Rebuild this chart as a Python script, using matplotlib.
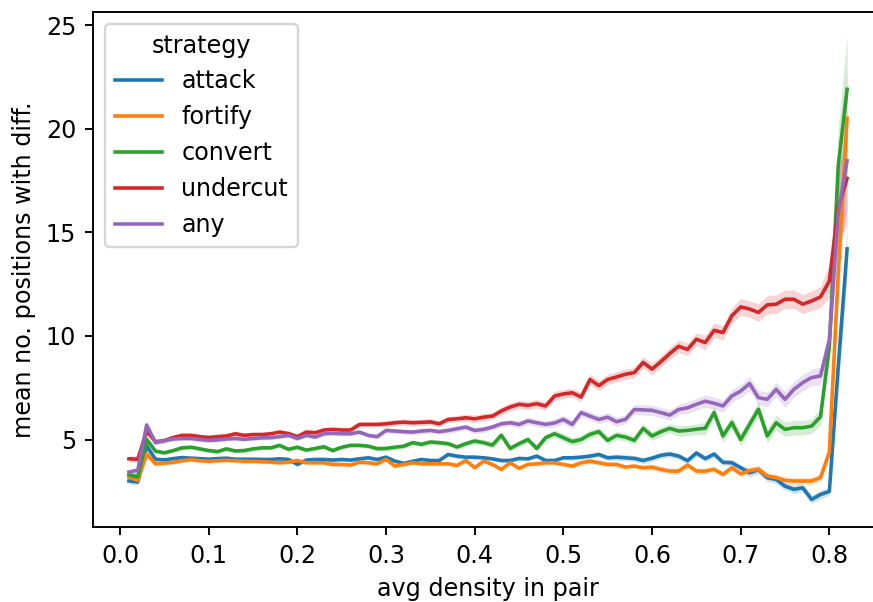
import numpy as np
import matplotlib
matplotlib.use("Agg")
import matplotlib.pyplot as plt

# avg density in pair, 0.01 .. 0.82
density = np.round(np.arange(1, 83) / 100, 2)

strategies = ["attack", "fortify", "convert", "undercut", "any"]

attack = [3.0, 2.95, 4.69, 4.05, 4.02, 4.08, 4.13, 4.1, 4.08, 4.05,
          4.08, 4.1, 4.05, 4.05, 4.05, 4.04, 4.04, 4.07, 4.04, 3.8,
          4.01, 4.04, 4.04, 4.01, 4.04, 4.01, 4.07, 4.12, 4.04, 4.15,
          3.96, 3.85, 3.95, 4.04, 3.99, 3.99, 4.28, 4.2, 4.15, 4.15,
          4.12, 4.07, 3.99, 3.99, 4.09, 4.07, 4.2, 3.99, 3.99, 4.12,
          4.12, 4.15, 4.2, 4.28, 4.12, 4.15, 4.12, 4.09, 3.99, 4.1,
          4.24, 4.3, 4.2, 3.98, 4.35, 4.08, 4.3, 3.9, 3.88, 3.64,
          3.4, 3.55, 3.16, 3.08, 2.75, 2.6, 2.67, 2.11, 2.35, 2.5,
          8.5, 14.2]
fortify = [3.19, 3.03, 4.31, 3.83, 3.86, 3.9, 3.98, 4.03, 3.98, 3.95,
           3.98, 4.0, 3.98, 3.95, 3.95, 3.93, 3.91, 3.88, 3.91, 3.99,
           3.88, 3.88, 3.88, 3.8, 3.8, 3.77, 3.91, 3.88, 3.83, 4.04,
           3.72, 3.8, 3.88, 3.83, 3.83, 3.83, 3.83, 3.75, 3.99, 3.64,
           3.96, 3.8, 3.56, 3.88, 3.61, 3.8, 3.83, 3.88, 3.88, 3.8,
           3.72, 3.88, 3.96, 3.88, 3.8, 3.8, 3.67, 3.72, 3.64, 3.67,
           3.56, 3.48, 3.48, 3.77, 3.48, 3.48, 3.56, 3.32, 3.64, 3.35,
           3.5, 3.56, 3.24, 3.16, 3.03, 3.0, 3.0, 3.0, 3.16, 4.4,
           13.0, 20.5]
convert = [3.3, 3.2, 5.0, 4.44, 4.36, 4.47, 4.6, 4.63, 4.55, 4.47,
           4.42, 4.55, 4.45, 4.47, 4.55, 4.6, 4.6, 4.72, 4.53, 4.63,
           4.49, 4.57, 4.65, 4.47, 4.63, 4.72, 4.72, 4.68, 4.56, 4.57,
           4.63, 4.68, 4.85, 4.77, 4.88, 4.85, 4.8, 4.64, 4.8, 4.93,
           4.85, 4.73, 5.21, 4.57, 4.8, 5.0, 4.57, 5.09, 5.28, 5.09,
           4.9, 5.0, 5.25, 5.38, 4.96, 5.2, 5.12, 4.96, 5.54, 5.17,
           5.38, 5.54, 5.41, 5.44, 5.5, 5.54, 6.3, 5.17, 5.82, 5.0,
           5.73, 6.46, 5.17, 5.81, 5.49, 5.57, 5.57, 5.65, 6.1, 9.5,
           18.2, 21.9]
undercut = [4.07, 4.05, 5.4, 4.9, 4.95, 5.1, 5.2, 5.2, 5.14, 5.1,
            5.14, 5.17, 5.28, 5.2, 5.24, 5.24, 5.28, 5.36, 5.29, 5.14,
            5.36, 5.33, 5.46, 5.49, 5.46, 5.46, 5.73, 5.73, 5.73, 5.76,
            5.81, 5.84, 5.81, 5.83, 5.85, 5.76, 5.97, 6.0, 6.05, 6.0,
            6.08, 6.13, 6.38, 6.57, 6.7, 6.65, 6.73, 6.62, 7.1, 7.2,
            7.26, 7.05, 7.9, 7.6, 7.9, 8.02, 8.15, 8.23, 8.72, 8.4,
            8.76, 9.15, 9.5, 9.35, 9.84, 9.68, 10.27, 10.16, 10.97, 11.4,
            11.3, 11.13, 11.5, 11.53, 11.77, 11.77, 11.53, 11.69, 11.88, 12.65,
            16.2, 17.6]
any_ = [3.43, 3.52, 5.7, 4.85, 4.95, 5.03, 5.05, 5.05, 5.0, 4.96,
        4.98, 5.03, 5.05, 5.01, 5.05, 5.08, 5.09, 5.14, 5.2, 5.05,
        5.2, 5.12, 5.28, 5.3, 5.28, 5.28, 5.36, 5.2, 5.14, 5.44,
        5.41, 5.38, 5.36, 5.41, 5.44, 5.38, 5.44, 5.52, 5.6, 5.44,
        5.49, 5.6, 5.76, 5.81, 5.73, 5.9, 5.81, 5.73, 5.8, 5.97,
        5.73, 6.3, 6.13, 5.97, 6.08, 5.86, 5.97, 6.45, 6.43, 6.41,
        6.3, 6.18, 6.45, 6.53, 6.7, 6.85, 6.75, 6.62, 7.1, 7.34,
        7.7, 7.02, 6.94, 7.42, 6.94, 7.42, 7.75, 7.99, 8.07, 9.8,
        15.9, 18.45]

# half-width of the 95% CI band
attack_ci = [0.15, 0.15, 0.2, 0.1, 0.1, 0.1, 0.1, 0.1, 0.1, 0.1,
             0.1, 0.1, 0.1, 0.1, 0.1, 0.1, 0.1, 0.1, 0.1, 0.1,
             0.1, 0.1, 0.1, 0.1, 0.1, 0.1, 0.1, 0.1, 0.1, 0.1,
             0.1, 0.1, 0.1, 0.1, 0.1, 0.1, 0.1, 0.1, 0.1, 0.1,
             0.1, 0.1, 0.1, 0.1, 0.1, 0.1, 0.1, 0.1, 0.1, 0.1,
             0.12, 0.12, 0.12, 0.12, 0.12, 0.15, 0.15, 0.15, 0.15, 0.15,
             0.15, 0.15, 0.15, 0.15, 0.15, 0.15, 0.15, 0.15, 0.15, 0.15,
             0.2, 0.2, 0.2, 0.2, 0.2, 0.2, 0.2, 0.2, 0.2, 0.2,
             1.0, 1.3]
fortify_ci = [0.15, 0.15, 0.2, 0.1, 0.1, 0.1, 0.1, 0.1, 0.1, 0.1,
              0.1, 0.1, 0.1, 0.1, 0.1, 0.1, 0.1, 0.1, 0.1, 0.1,
              0.1, 0.1, 0.1, 0.1, 0.1, 0.1, 0.1, 0.1, 0.1, 0.1,
              0.1, 0.1, 0.1, 0.1, 0.1, 0.1, 0.1, 0.1, 0.1, 0.1,
              0.1, 0.1, 0.1, 0.1, 0.1, 0.1, 0.1, 0.1, 0.1, 0.1,
              0.12, 0.12, 0.12, 0.12, 0.12, 0.12, 0.12, 0.12, 0.12, 0.15,
              0.15, 0.15, 0.15, 0.15, 0.15, 0.15, 0.15, 0.15, 0.15, 0.15,
              0.18, 0.18, 0.18, 0.18, 0.18, 0.18, 0.18, 0.18, 0.2, 0.3,
              1.5, 2.5]
convert_ci = [0.15, 0.15, 0.2, 0.1, 0.1, 0.1, 0.1, 0.1, 0.1, 0.1,
              0.1, 0.1, 0.1, 0.1, 0.1, 0.1, 0.1, 0.1, 0.1, 0.1,
              0.1, 0.1, 0.1, 0.1, 0.1, 0.1, 0.1, 0.1, 0.12, 0.12,
              0.12, 0.12, 0.12, 0.12, 0.12, 0.12, 0.12, 0.12, 0.15, 0.15,
              0.15, 0.15, 0.15, 0.15, 0.15, 0.15, 0.15, 0.18, 0.18, 0.2,
              0.2, 0.2, 0.2, 0.2, 0.2, 0.2, 0.2, 0.2, 0.22, 0.22,
              0.22, 0.22, 0.25, 0.25, 0.25, 0.3, 0.3, 0.3, 0.3, 0.3,
              0.35, 0.35, 0.35, 0.35, 0.35, 0.35, 0.35, 0.35, 0.4, 0.6,
              1.8, 2.6]
undercut_ci = [0.15, 0.15, 0.2, 0.12, 0.12, 0.12, 0.12, 0.12, 0.12, 0.12,
               0.12, 0.12, 0.12, 0.12, 0.12, 0.12, 0.12, 0.12, 0.12, 0.12,
               0.12, 0.12, 0.12, 0.12, 0.12, 0.12, 0.12, 0.12, 0.12, 0.15,
               0.15, 0.15, 0.15, 0.15, 0.15, 0.15, 0.15, 0.15, 0.18, 0.18,
               0.18, 0.18, 0.18, 0.2, 0.2, 0.2, 0.2, 0.2, 0.22, 0.22,
               0.22, 0.22, 0.25, 0.25, 0.25, 0.25, 0.25, 0.25, 0.28, 0.28,
               0.28, 0.3, 0.3, 0.3, 0.3, 0.35, 0.35, 0.35, 0.38, 0.4,
               0.4, 0.42, 0.45, 0.45, 0.45, 0.45, 0.45, 0.48, 0.5, 0.8,
               1.8, 2.2]
any_ci = [0.15, 0.15, 0.2, 0.1, 0.1, 0.1, 0.1, 0.1, 0.1, 0.1,
          0.1, 0.1, 0.1, 0.1, 0.1, 0.1, 0.1, 0.1, 0.1, 0.1,
          0.1, 0.1, 0.1, 0.1, 0.1, 0.1, 0.1, 0.1, 0.12, 0.12,
          0.12, 0.12, 0.12, 0.12, 0.12, 0.12, 0.15, 0.15, 0.15, 0.15,
          0.15, 0.15, 0.15, 0.15, 0.18, 0.18, 0.18, 0.18, 0.2, 0.2,
          0.2, 0.2, 0.2, 0.2, 0.22, 0.22, 0.22, 0.22, 0.25, 0.25,
          0.25, 0.25, 0.25, 0.28, 0.28, 0.3, 0.3, 0.3, 0.3, 0.32,
          0.35, 0.35, 0.35, 0.35, 0.38, 0.38, 0.4, 0.4, 0.42, 0.7,
          1.8, 2.5]

means = [attack, fortify, convert, undercut, any_]
cis = [attack_ci, fortify_ci, convert_ci, undercut_ci, any_ci]
colors = ["#1f77b4", "#ff7f0e", "#2ca02c", "#d62728", "#9467bd"]

DPI = 172
fig = plt.figure(figsize=(873 / DPI, 602 / DPI), dpi=DPI)
ax = fig.add_axes([93 / 873, 75 / 602, 790 / 873, 515 / 602])

for name, m, c, col in zip(strategies, means, cis, colors):
    m = np.array(m)
    c = np.array(c)
    ax.fill_between(density, m - c, m + c, color=col, alpha=0.2, linewidth=0)
    ax.plot(density, m, color=col, linewidth=1.5, label=name)

ax.set_xlabel("avg density in pair")
ax.set_ylabel("mean no. positions with diff.")
ax.legend(title="strategy", loc="upper left")

fig.savefig("out.png", dpi=DPI)
